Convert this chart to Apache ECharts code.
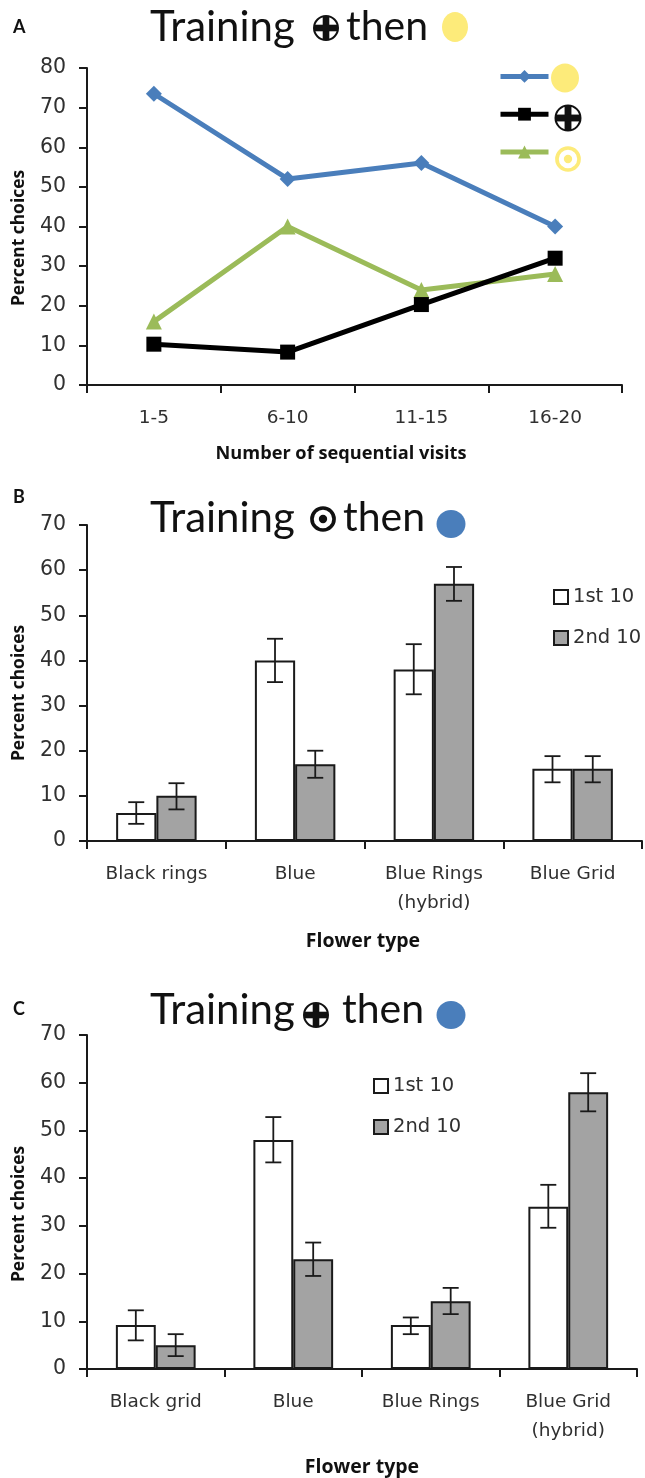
<!DOCTYPE html>
<html><head><meta charset="utf-8">
<style>html,body{margin:0;padding:0;background:#fff}#c{width:645px;height:1478px}</style>
<script src="https://cdn.jsdelivr.net/npm/echarts@6/dist/echarts.min.js"></script>
</head><body><div id="c"></div>
<script>
const visitBins = ['1-5','6-10','11-15','16-20'];
const yellowPct = [73.5,52,56,40];
const crossPct = [10.3,8.3,20.3,32];
const ringPct = [16,40,24,28];

const typesB = ['Black rings','Blue','Blue Rings\n(hybrid)','Blue Grid'];
const firstB = [6.2,40,38,16];
const secondB = [10,17,57,16];
const firstBLow = [3.8,35.2,32.5,13];
const firstBHigh = [8.6,44.8,43.6,18.8];
const secondBLow = [7,14,53.2,13];
const secondBHigh = [12.8,20,60.7,18.8];

const typesC = ['Black grid','Blue','Blue Rings','Blue Grid\n(hybrid)'];
const firstC = [9.2,48,9.2,34];
const secondC = [5,23,14.2,58];
const firstCLow = [6,43.3,7.3,29.6];
const firstCHigh = [12.3,52.8,10.8,38.6];
const secondCLow = [2.7,19.5,11.5,54];
const secondCHigh = [7.3,26.5,17,62];

const FONT = 'Lato';
const BOLD = 'Open Sans';
const BODY = 'DejaVu Sans';
const AX = '#303030';
const axisLine = {show:true,onZero:false,lineStyle:{color:'#1a1a1a',width:2}};
const axisTick = {show:true,length:8,lineStyle:{color:'#1a1a1a',width:2}};

function yAxis(gi,max){
  return {type:'value',gridIndex:gi,min:0,max:max,interval:10,splitLine:{show:false},
    axisLine,axisTick,
    axisLabel:{color:AX,fontFamily:BODY,fontSize:20.5,margin:21}};
}
function xAxis(gi,data){
  return {type:'category',gridIndex:gi,data:data,boundaryGap:true,
    axisLine,axisTick:{...axisTick,alignWithLabel:false},
    axisLabel:{color:AX,fontFamily:BODY,fontSize:18.5,margin:19,lineHeight:29,interval:0}};
}
function lineSeries(name,data,color,symbol,size){
  return {type:'line',name,data,xAxisIndex:0,yAxisIndex:0,symbol,symbolSize:size,
    lineStyle:{color,width:5},itemStyle:{color},animation:false};
}
function barSeries(name,data,gi,fill){
  return {type:'bar',name,data,xAxisIndex:gi,yAxisIndex:gi,barWidth:'29%',barGap:'0%',
    itemStyle:{color:fill,borderColor:'#1a1a1a',borderWidth:2},animation:false};
}
function errSeries(low,high,gi,side){
  return {type:'custom',xAxisIndex:gi,yAxisIndex:gi,silent:true,animation:false,z:5,
    data:low.map((v,i)=>[i,v,high[i]]),
    renderItem(params,api){
      const band=api.size([1,0])[0];
      const x=api.coord([api.value(0),0])[0]+side*band*0.145;
      const y0=api.coord([0,api.value(1)])[1], y1=api.coord([0,api.value(2)])[1];
      const st={stroke:'#1a1a1a',lineWidth:1.8,fill:null};
      const cap=8;
      return {type:'group',children:[
        {type:'line',shape:{x1:x,y1:y0,x2:x,y2:y1},style:st},
        {type:'line',shape:{x1:x-cap,y1:y0,x2:x+cap,y2:y0},style:st},
        {type:'line',shape:{x1:x-cap,y1:y1,x2:x+cap,y2:y1},style:st}]};
    }};
}
function txt(x,y,text,size,weight,align,family,rot){
  return {type:'text',x,y,rotation:rot||0,silent:true,style:{text,fontFamily:family||FONT,fontSize:size,fontWeight:weight||'normal',
    fill:'#111',align:align||'left',verticalAlign:'middle'}};
}
function disc(cx,cy,rx,ry,color){
  return {type:'ellipse',silent:true,shape:{cx,cy,rx,ry},style:{fill:color}};
}
function crossGlyph(cx,cy,r){
  const t=r*0.55;
  return {type:'group',silent:true,children:[
    {type:'circle',shape:{cx,cy,r},style:{fill:'#fff',stroke:'#111',lineWidth:2}},
    {type:'rect',shape:{x:cx-t/2,y:cy-r,width:t,height:2*r},style:{fill:'#111'}},
    {type:'rect',shape:{x:cx-r,y:cy-t/2,width:2*r,height:t},style:{fill:'#111'}}]};
}
function ringGlyph(cx,cy,r,color){
  return {type:'group',silent:true,children:[
    {type:'circle',shape:{cx,cy,r:r*0.85},style:{fill:'#fff',stroke:color,lineWidth:r*0.28}},
    {type:'circle',shape:{cx,cy,r:r*0.32},style:{fill:color}}]};
}
const YEL='#FDEB7A', BLU='#4A7EBB';
const UP=Math.PI/2;
const graphics=[
  txt(13,27,'A',18,'bold'), txt(13,497,'B',18,'bold'), txt(13,1009,'C',18,'bold'),
  txt(150,27,'Training',42), crossGlyph(326,28,12), txt(346,27,'then',41), disc(455,27,13,15,YEL),
  txt(150,518,'Training',42), ringGlyph(323,519,13,'#111'), txt(343,518,'then',41), disc(451,524,14.5,14,BLU),
  txt(150,1010,'Training',42), crossGlyph(316,1015,12), txt(342,1010,'then',41), disc(451,1015,14.5,14,BLU),
  disc(565,78,14,14.5,YEL), crossGlyph(568,118,12.5), ringGlyph(568,159,13,YEL),
  txt(19,238,'Percent choices',17.4,'bold','center',BOLD,UP),
  txt(19,693,'Percent choices',17.4,'bold','center',BOLD,UP),
  txt(19,1214,'Percent choices',17.4,'bold','center',BOLD,UP),
  txt(341,454,'Number of sequential visits',18.2,'bold','center',BOLD),
  txt(363,941,'Flower type',19.5,'bold','center',BOLD),
  txt(362,1467,'Flower type',19.5,'bold','center',BOLD)
];
const chart=echarts.init(document.getElementById('c'),null,{renderer:'canvas'});
chart.setOption({
  animation:false,
  backgroundColor:'#fff',
  grid:[
    {left:87,right:23,top:68,height:317},
    {left:87,right:3,top:525,height:316},
    {left:87,right:8,top:1035,height:334}
  ],
  xAxis:[xAxis(0,visitBins),xAxis(1,typesB),xAxis(2,typesC)],
  yAxis:[yAxis(0,80),yAxis(1,70),yAxis(2,70)],
  legend:[
    {data:['Yellow flower','Crossed flower','Ringed flower'],orient:'vertical',left:493,top:65,itemWidth:48,itemHeight:16,itemGap:25,
      formatter:()=>' ',selectedMode:false,textStyle:{fontSize:1},lineStyle:{width:5}},
    {data:['1st 10','2nd 10'],orient:'vertical',left:548,top:582,itemWidth:14,itemHeight:14,itemGap:21,selectedMode:false,
      icon:'rect',textStyle:{fontFamily:BODY,fontSize:19.5,color:AX}},
    {data:['1st 10','2nd 10'],orient:'vertical',left:368,top:1071,itemWidth:14,itemHeight:14,itemGap:21,selectedMode:false,
      icon:'rect',textStyle:{fontFamily:BODY,fontSize:19.5,color:AX}}
  ],
  series:[
    lineSeries('Yellow flower',yellowPct,'#4A7EBB','diamond',16),
    lineSeries('Ringed flower',ringPct,'#9BBB59','triangle',16),
    lineSeries('Crossed flower',crossPct,'#000','rect',15),
    barSeries('1st 10',firstB,1,'#fff'),
    barSeries('2nd 10',secondB,1,'#A3A3A3'),
    errSeries(firstBLow,firstBHigh,1,-1),
    errSeries(secondBLow,secondBHigh,1,1),
    barSeries('1st 10',firstC,2,'#fff'),
    barSeries('2nd 10',secondC,2,'#A3A3A3'),
    errSeries(firstCLow,firstCHigh,2,-1),
    errSeries(secondCLow,secondCHigh,2,1)
  ],
  graphic:graphics
});
</script></body></html>
